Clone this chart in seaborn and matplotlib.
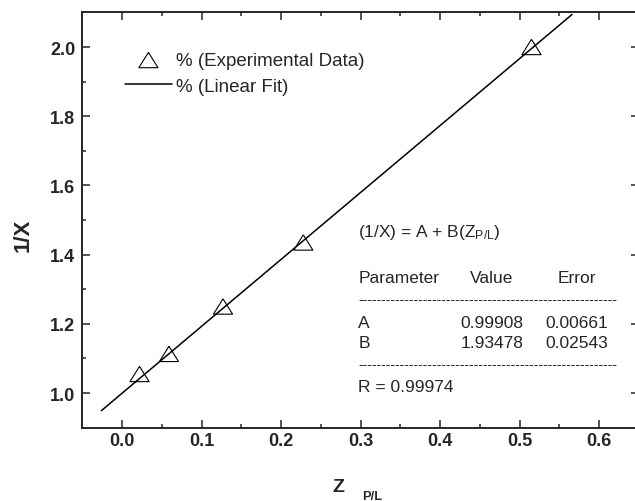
import matplotlib
matplotlib.use("Agg")
import matplotlib.pyplot as plt
import seaborn as sns
import pandas as pd
from matplotlib.ticker import MultipleLocator

# experimental points
z_pl = [0.022, 0.059, 0.127, 0.228, 0.515]
inv_x = [1.055, 1.113, 1.250, 1.435, 2.000]

# linear fit endpoints (as drawn)
fit_z = [-0.026, 0.566]
fit_y = [0.949, 2.094]

fit_table = [("A", "0.99908", "0.00661"),
             ("B", "1.93478", "0.02543")]
r_value = "0.99974"

###################################################################

sns.set_style("ticks")
plt.rcParams['font.family'] = ['Liberation Sans', 'DejaVu Sans']
plt.rcParams['mathtext.fontset'] = 'custom'
plt.rcParams['mathtext.rm'] = 'Liberation Sans'
plt.rcParams['mathtext.it'] = 'Liberation Sans'
plt.rcParams['mathtext.bf'] = 'Liberation Sans:bold'

fig = plt.figure(figsize=(6.35, 5.02), dpi=100)
ax = fig.add_axes([0.1296, 0.1462, 0.8764, 0.8271])

pts = pd.DataFrame({"z": z_pl, "y": inv_x})
fit = pd.DataFrame({"z": fit_z, "y": fit_y})

tri = [(0, 0.8), (-1, -0.8), (1, -0.8), (0, 0.8)]
sns.scatterplot(data=pts, x="z", y="y", marker=tri, s=190,
                facecolor="none", edgecolor="black", linewidth=0.8,
                label="% (Experimental Data)", ax=ax, zorder=3)
sns.lineplot(data=fit, x="z", y="y", color="black", linewidth=1.1,
             label="% (Linear Fit)", ax=ax)

ax.set_xlim(-0.05, 0.65)
ax.set_ylim(0.9, 2.1)
ax.xaxis.set_major_locator(MultipleLocator(0.1))
ax.xaxis.set_minor_locator(MultipleLocator(0.05))
ax.yaxis.set_major_locator(MultipleLocator(0.2))
ax.yaxis.set_minor_locator(MultipleLocator(0.1))
ax.set_xticklabels(["%.1f" % t for t in ax.get_xticks()])
ax.set_yticklabels(["%.1f" % t for t in ax.get_yticks()])

for s in ax.spines.values():
    s.set_linewidth(1.4)
ax.tick_params(which="both", direction="in", top=True, right=True,
               width=1.1, labelsize=13)
ax.tick_params(which="major", length=5.8)
ax.tick_params(which="minor", length=2.9)
ax.tick_params(axis="x", pad=3.5)
ax.tick_params(axis="y", pad=5)
for lab in ax.get_xticklabels() + ax.get_yticklabels():
    lab.set_fontweight("bold")

ax.set_xlabel("Z", fontsize=14, fontweight="bold", va="center")
ax.xaxis.set_label_coords(0.461, -0.1407)
ax.text(0.5206, -0.1647, "P/L", transform=ax.transAxes, fontsize=9.3,
        fontweight="bold", ha="center", va="center")
ax.set_ylabel("1/X", fontsize=16, fontweight="bold", va="center")
ax.yaxis.set_label_coords(-0.1066, 0.466)

leg = ax.legend(loc="upper left", bbox_to_anchor=(0.0767, 0.905),
                frameon=False, fontsize=13.5, borderpad=0,
                handlelength=2.5, handletextpad=0.2, labelspacing=0.45,
                borderaxespad=0)

# fit report
fs = 12.5
ax.text(0.297, 1.468, r"(1/X) = A + B(Z$_{\mathrm{P/L}}$)", fontsize=fs,
        va="center")
ax.text(0.297, 1.335, "Parameter", fontsize=fs, va="center")
ax.text(0.438, 1.335, "Value", fontsize=fs, va="center")
ax.text(0.548, 1.335, "Error", fontsize=fs, va="center")
dashes = "-" * 56
ax.text(0.297, 1.272, dashes, fontsize=9.8, va="center")
rows_y = [1.205, 1.147]
for (name, val, err), yy in zip(fit_table, rows_y):
    ax.text(0.297, yy, name, fontsize=fs, va="center")
    ax.text(0.505, yy, val, fontsize=fs, va="center", ha="right")
    ax.text(0.611, yy, err, fontsize=fs, va="center", ha="right")
ax.text(0.297, 1.084, dashes, fontsize=9.8, va="center")
ax.text(0.297, 1.020, "R = " + r_value, fontsize=fs, va="center")

plt.savefig("out.png", dpi=100)
